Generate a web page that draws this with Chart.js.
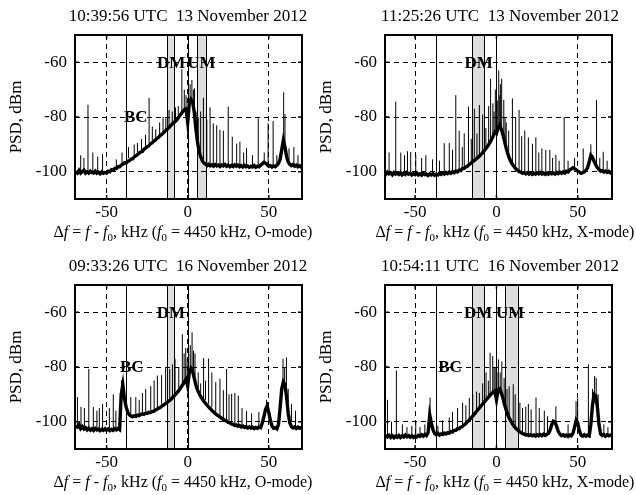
<!DOCTYPE html>
<html>
<head>
<meta charset="utf-8">
<script src="https://cdn.jsdelivr.net/npm/chart.js@4.4.0/dist/chart.umd.min.js"></script>
<style>
  body { margin: 0; background: #fff; }
  #wrap { position: relative; width: 636px; height: 495px; font-family: "Liberation Serif", "Times New Roman", serif; color: #000; }
  canvas { position: absolute; }
  .ttl, .xlab { position: absolute; font-size: 17px; line-height: 17px; white-space: pre; transform: translateX(-50%); }
  .xlab { font-size: 16px; }
  .xlab sub { font-size: 11px; line-height: 0; vertical-align: -4px; }
</style>
</head>
<body>
<div id="wrap">
  <canvas id="c1" width="310" height="247" style="left:0;top:0"></canvas>
  <canvas id="c2" width="326" height="247" style="left:310px;top:0"></canvas>
  <canvas id="c3" width="310" height="247" style="left:0;top:250px"></canvas>
  <canvas id="c4" width="326" height="247" style="left:310px;top:250px"></canvas>
</div>
<script>
// first sample of every trace (kHz), 1 kHz step
const FREQ_START = -69;
const xTickValues = [-50, 0, 50];
const yTickValues = [-100, -80, -60];

const titles = ['10:39:56 UTC  13 November 2012', '11:25:26 UTC  13 November 2012',
                '09:33:26 UTC  16 November 2012', '10:54:11 UTC  16 November 2012'];
const modes = ['O-mode', 'X-mode', 'O-mode', 'X-mode'];

// PSD floor of each spectrum, dBm, from -69 to 71 kHz
const psd1 = [
  -100, -100.5, -99.5, -100.5, -100, -99.5, -100.5, -100, -100.5, -99.8,
  -100.3, -100.5, -99.8, -100.6, -100.2, -100.8, -100.1, -100.6, -100.3, -100.5,
  -99.8, -100, -99.3, -99.5, -98.8, -98.9, -98.2, -98.2, -97.6, -97.3,
  -96.8, -96.9, -96.2, -96, -95.4, -95.3, -94.6, -94.2, -93.8, -93.2,
  -92.8, -92.6, -91.8, -91.4, -90.9, -90.6, -89.8, -89.5, -88.9, -88.5,
  -87.8, -87.5, -86.8, -86.4, -85.8, -85.2, -84.7, -84.1, -83.5, -82.9,
  -82.2, -81.8, -81.2, -80.5, -79.6, -78.8, -78, -77.2, -77, -82,
  -75, -73.5, -74.5, -78, -84, -89, -92.5, -94.5, -96, -96.8,
  -97.2, -97.8, -97.3, -97.9, -97.5, -98, -97.4, -97.9, -97.6, -98.1,
  -97.5, -97.9, -97.4, -98, -97.6, -98.2, -97.7, -98.1, -97.5, -98,
  -97.6, -98.2, -97.8, -98.3, -97.7, -98.2, -97.9, -98.4, -98, -98.3,
  -97.8, -98.4, -98, -98.2, -97.6, -97.2, -96.6, -96.9, -97.4, -98,
  -97.8, -98.3, -97.9, -98.2, -97.7, -97, -95.5, -92, -88.5, -91,
  -94.5, -96.5, -97.3, -97.8, -97.4, -98, -97.6, -98.2, -97.8, -98.3, -97.9
];
const psd2 = [
  -100.5, -101, -100.2, -100.8, -100.4, -101.1, -100.3, -100.9, -100.5, -101,
  -100.4, -101.2, -100.6, -101, -100.3, -100.9, -100.6, -101.2, -100.7, -101.1,
  -100.5, -101.2, -100.8, -101.3, -100.6, -101.1, -100.9, -101.4, -100.8, -101.2,
  -100.7, -101.3, -100.9, -101.2, -100.6, -101, -100.5, -100.9, -100.3, -100.7,
  -100.2, -100.6, -100, -100.4, -99.8, -100.1, -99.5, -99.6, -98.9, -98.9,
  -98.3, -98.1, -97.5, -97.1, -96.6, -96.1, -95.6, -95.1, -94.6, -94,
  -93.4, -92.7, -92, -91.2, -90.3, -89.3, -88.2, -87, -85.5, -86,
  -84, -83, -84.5, -86.5, -89, -91.5, -93.5, -95.2, -96.5, -97.5,
  -98.3, -99, -99.5, -100, -100.2, -100.6, -100.3, -100.8, -100.4, -100.9,
  -100.5, -101, -100.6, -100.9, -100.4, -100.8, -100.3, -100.9, -100.5, -101,
  -100.6, -100.9, -100.4, -100.8, -100.5, -100.9, -100.3, -100.7, -100.2, -100.6,
  -100.1, -100.5, -99.8, -100.1, -99.4, -99, -98.6, -98.9, -99.3, -99.8,
  -100.2, -100.6, -100.4, -100.1, -99.5, -98.5, -96.5, -94, -94.8, -96.2,
  -97.5, -98.5, -99.2, -99.8, -99.6, -100.1, -99.8, -100.3, -99.9, -100.4, -100
];
const psd3 = [
  -101.5, -102, -101.2, -102.5, -101.8, -102.7, -102.2, -103, -102.4, -103.1,
  -102.6, -103.2, -102.5, -103, -102.7, -103.3, -102.8, -103.2, -102.6, -103.1,
  -102.7, -103.3, -102.8, -103.2, -102.6, -103, -102.5, -102.9, -90, -86.5,
  -91.5, -94.5, -96.5, -97.5, -97.9, -98.2, -97.8, -98.1, -97.6, -97.8,
  -97.4, -97.1, -97.3, -96.9, -97, -96.6, -96.7, -96.3, -96.2, -95.8,
  -95.5, -95.1, -94.8, -94.3, -94, -93.5, -93.1, -92.6, -92.2, -91.6,
  -91, -90.4, -89.7, -89, -88.2, -87.3, -86.4, -85.4, -84.5, -87,
  -82, -80.5, -81.5, -84, -86.5, -88.3, -89.6, -90.8, -91.7, -92.5,
  -93.3, -94, -94.7, -95.3, -95.9, -96.5, -97, -97.5, -97.9, -98.3,
  -98.8, -99.1, -99.6, -99.8, -100.3, -100.4, -100.9, -100.9, -101.4, -101.2,
  -101.7, -101.4, -101.9, -101.6, -102.1, -101.8, -102.3, -101.9, -102.4, -102,
  -102.5, -102.1, -102.4, -102, -102.2, -100.5, -98.2, -95.5, -94.3, -96.5,
  -99.5, -101.6, -102.4, -102.2, -102.6, -101, -95, -88, -85.5, -86.5,
  -91, -97, -100.5, -101.8, -102.3, -101.9, -102.5, -102, -102.4, -102.1, -102.5
];
const psd4 = [
  -104.5, -105.3, -105.6, -105, -105.8, -105.2, -105.9, -105.3, -105.7, -105.1,
  -105.8, -105.2, -105.6, -104.9, -105.5, -105.1, -105.7, -105.2, -105.8, -105.3,
  -105.6, -105, -105.4, -104.8, -105.3, -104.7, -105.1, -104, -97.5, -100.5,
  -103, -104.3, -104.8, -104.3, -104.9, -104.5, -104.7, -104.2, -104.5, -104,
  -104.2, -103.6, -103.8, -103.2, -103.2, -102.6, -102.6, -102, -101.8, -101.2,
  -100.8, -100.1, -99.6, -98.9, -98.2, -97.5, -96.8, -96, -95.3, -94.6,
  -93.9, -93.2, -92.5, -91.8, -91.1, -90.4, -89.7, -89.2, -88.8, -92,
  -88.5, -88, -89.5, -91.5, -93.8, -95.8, -97.5, -98.9, -100, -101,
  -101.8, -102.5, -103, -103.6, -103.9, -104.4, -104.5, -104.9, -104.8, -105.1,
  -104.8, -105.2, -104.9, -105.3, -104.8, -105.2, -104.7, -105.1, -104.6, -105,
  -104.6, -104.3, -103, -101, -99.8, -100.2, -101.8, -103.6, -104.6, -105.1,
  -104.8, -105.3, -104.9, -105.4, -104.9, -105.2, -104.3, -102, -99.5, -100.5,
  -103.5, -105, -105.3, -104.8, -105.3, -104.9, -105.2, -101, -94, -90,
  -90.5, -94.5, -101, -104.5, -105.1, -104.7, -105.3, -104.8, -105.2, -104.9, -105.2
];

// narrow spectral lines: [kHz, foot dBm, peak dBm]
const spikes1 = [
  [-66, -100, -94], [-64, -100, -95], [-61.5, -100, -75.5], [-58.5, -100, -93], [-55.5, -100, -94.5],
  [-52.5, -100, -93.5], [-44, -99, -95.5], [-40.5, -97, -93], [-36.5, -95, -91], [-33, -94, -90],
  [-31, -93, -89.5], [-28.5, -92.5, -88], [-26, -91, -86.5], [-23.8, -89.5, -73], [-21.8, -88.5, -83.5],
  [-19.7, -87.8, -84.5], [-17.3, -86.8, -82], [-15.2, -85.5, -80], [-13.5, -84.5, -80.5], [-11.5, -83.6, -77.5],
  [-9.5, -82.5, -78], [-7.5, -81.5, -76.5], [-5.8, -80, -76], [-3.6, -78, -62.5], [-2.1, -77.5, -70],
  [-1, -78, -72], [0.5, -80, -72.5], [1.5, -75, -68], [2.6, -74, -66.5], [3.5, -77, -70],
  [4.2, -80, -69.5], [5.2, -86, -78], [6.5, -89, -80], [8, -94, -78], [9.7, -96, -73],
  [11.8, -97, -81], [13.8, -97.5, -76.5], [15.8, -97.5, -82.3], [17.9, -97.5, -83], [19.9, -97.5, -84.7],
  [22, -97.5, -85], [25, -97.5, -76.2], [27.5, -97.5, -87.2], [30.2, -97.5, -89.7], [32.2, -97.5, -89],
  [34.5, -98, -93], [36.3, -98, -91.4], [40, -98, -94], [43.5, -98, -80.5], [47.2, -97, -93],
  [49.6, -98, -82.3], [52.7, -98, -81.5], [55, -98, -94], [59.2, -89, -71], [60, -90, -79],
  [62.5, -96, -91.5], [65.5, -97.5, -91], [68, -98, -94]
];
const spikes2 = [
  [-66, -100.5, -93], [-61.9, -100.8, -74.4], [-58.8, -100.8, -93], [-56.5, -100.8, -94], [-54.7, -101, -92.5],
  [-52.7, -101, -92.8], [-49.6, -101, -94], [-46, -101, -95], [-43.4, -101, -94], [-39.3, -101, -95.5],
  [-35, -101, -96], [-32.1, -100.6, -89.6], [-29, -100.3, -89.5], [-27, -100, -92], [-25, -100, -72],
  [-22.9, -99.5, -85], [-21, -99, -91], [-19.8, -98.5, -86], [-17.2, -97.5, -76.2], [-15.5, -96.5, -88],
  [-13.6, -95.5, -77], [-12, -95, -86], [-10.5, -94.5, -75.6], [-8.5, -93.5, -79], [-6.5, -92, -84],
  [-4.8, -90, -76], [-3.6, -89, -66], [-2.2, -88, -75], [-1.5, -87, -78], [-0.7, -86, -70],
  [0.5, -85, -74], [1.4, -84, -63], [2, -83, -72], [2.4, -83, -68], [3.2, -84, -66],
  [4.5, -87, -73.8], [5.3, -89, -80], [6, -90, -82], [7.5, -93, -85], [9.8, -96.5, -73.2],
  [11.8, -98, -80], [13.9, -99.5, -77.4], [15.5, -100, -87], [17.4, -100.3, -85], [19.6, -100.4, -87.5],
  [22.1, -100.5, -89.8], [24.2, -100.5, -87.4], [26, -100.6, -93], [27.9, -100.6, -91.5], [30.3, -100.7, -92],
  [32.8, -100.6, -92], [34.5, -100.6, -95], [36.5, -100.6, -93.8], [38.5, -100.6, -96], [41.6, -100.3, -80],
  [44, -100, -96], [48, -98.8, -95], [53.3, -100.5, -91.5], [58, -94, -90], [61.5, -97.5, -73.8],
  [63.5, -99, -95], [65.6, -99.8, -92.7], [68, -100, -96]
];
const spikes3 = [
  [-68, -101.5, -91], [-65.8, -102, -94.6], [-63.7, -102.5, -95], [-61, -102.8, -80.7], [-58.2, -103, -94.6],
  [-56, -103, -96], [-54.5, -103, -95], [-52.5, -103, -93.5], [-48.3, -103, -95], [-45.9, -103, -90],
  [-44.3, -103, -96], [-40.8, -90, -84.8], [-35.1, -97.8, -91], [-32, -97.5, -91], [-29.9, -97.2, -92],
  [-27.9, -97, -89.5], [-25.9, -96.7, -88], [-22.8, -96, -87], [-20.7, -95.5, -84.9], [-18.7, -95, -83.1],
  [-16.1, -93.5, -83], [-13.6, -92.5, -80], [-11.1, -91.5, -80.7], [-9.4, -91, -79], [-7.8, -90, -77],
  [-5.5, -88, -80], [-3.3, -86, -68], [-2.2, -85, -75], [-1.2, -84, -73], [-0.3, -85, -77],
  [0.6, -84, -75], [1.6, -81, -72], [2.7, -80.5, -67.3], [3.6, -82, -74], [4.5, -84, -75],
  [6.5, -88, -82], [8, -89.5, -86], [9.8, -91.5, -76.7], [11, -92, -85], [12.9, -93.5, -76.9],
  [14.9, -94.7, -82], [17.3, -96.5, -85.5], [19.9, -97.9, -84.3], [22, -98.8, -88.5], [24, -99.6, -80.7],
  [25.5, -99.8, -90], [27.1, -100.4, -89.8], [29.1, -100.9, -89.5], [31.2, -101.2, -90.5], [33.5, -101.4, -95],
  [36.3, -102, -96.1], [39.4, -102, -97], [43.9, -102.1, -96.5], [48.6, -95.5, -92], [58.8, -88, -77],
  [59.8, -86, -80], [60.9, -87, -76.5], [62, -93, -88], [64, -100, -93.5], [66.5, -102, -96]
];
const spikes4 = [
  [-69, -104.5, -90], [-67, -105.3, -92], [-64.5, -105.5, -100], [-61.5, -105.5, -81.3], [-57.8, -105.5, -101],
  [-55, -105.5, -102], [-52, -105.3, -101.5], [-49.6, -105.3, -100], [-47, -105.3, -102], [-44, -105, -101],
  [-40.8, -100, -91.2], [-36, -104.5, -101.5], [-33.1, -104.3, -99.5], [-29, -104, -98.5], [-27, -103.5, -96.5],
  [-23.9, -102.5, -95], [-20.8, -101.5, -93], [-18.8, -100.5, -94], [-16.7, -99.5, -91.3], [-14.6, -98, -90],
  [-12.2, -96.5, -89], [-10.5, -95, -89.5], [-8.5, -93.5, -86], [-6.4, -92.5, -82], [-5, -91.5, -85],
  [-3.9, -91, -74.8], [-2.3, -90, -76], [-1.5, -89.5, -80], [-0.8, -89, -80], [0.3, -89, -82],
  [1.2, -88.5, -77.2], [2.3, -88, -82], [3.3, -89.5, -78], [4.7, -93, -84], [5.5, -95, -86],
  [6.5, -96, -88], [7.8, -98, -87], [10.3, -101, -86.3], [11.5, -101.5, -90], [14.4, -103.5, -93],
  [16, -104.2, -95], [18, -104.6, -94.5], [19.6, -104.8, -93.5], [21.3, -104.8, -95.5], [24.3, -104.8, -91.2],
  [26.3, -104.8, -95], [29.4, -104.7, -96], [31.4, -104.5, -98], [36.5, -100, -94.4], [44, -105, -101],
  [48.9, -101, -92.5], [49.9, -100, -91.5], [56.5, -105, -79], [59, -96, -88], [60.3, -90, -83.3],
  [61.3, -91, -84], [62.5, -95, -90], [66, -105, -101], [68.5, -105, -102]
];

// marked frequencies (kHz): BC line, DM / UM bands, text tags [text, kHz, dBm]
const bcLine = [-38.2, -37.1, -38.2, -37.1];
const dmBand = [[-12.7, -8.2], [-15, -7.5], [-12.7, -8.2], [-15, -7.5]];
const umBand = [[5.8, 11.3], null, null, [5.5, 13.2]];
const tags = [
  [['BC', -32, -80], ['DM', -10.2, -60], ['UM', 8.5, -60]],
  [['DM', -11, -60]],
  [['BC', -34.5, -80], ['DM', -10.4, -60]],
  [['BC', -28.5, -80], ['DM', -11.2, -60], ['UM', 8.4, -60]]
];

const serif = '"Liberation Serif", "Times New Roman", serif';
const tickFont = { family: serif, size: 17 };

const marks = {
  id: 'marks',
  beforeDraw(chart, args, o) {
    const { ctx, chartArea: a, scales: { x } } = chart;
    ctx.save();
    o.bands.forEach(([b0, b1]) => {
      const x0 = x.getPixelForValue(b0), x1 = x.getPixelForValue(b1);
      ctx.fillStyle = '#dedede';
      ctx.fillRect(x0, a.top, x1 - x0, a.height);
    });
    ctx.restore();
  },
  beforeDatasetsDraw(chart, args, o) {
    const { ctx, chartArea: a, scales: { x } } = chart;
    ctx.save();
    ctx.strokeStyle = '#000';
    ctx.lineWidth = 1;
    const lines = [o.bc, 0];
    o.bands.forEach(b => lines.push(b[0], b[1]));
    lines.forEach(v => {
      const px = Math.round(x.getPixelForValue(v)) + 0.5;
      ctx.beginPath();
      ctx.moveTo(px, a.top);
      ctx.lineTo(px, a.bottom);
      ctx.stroke();
    });
    ctx.restore();
  },
  afterDatasetsDraw(chart, args, o) {
    const { ctx, chartArea: a, scales: { x, y } } = chart;
    ctx.save();
    ctx.fillStyle = '#000';
    ctx.font = 'bold 17px ' + serif;
    ctx.textAlign = 'center';
    ctx.textBaseline = 'middle';
    o.tags.forEach(([t, tx, ty]) => ctx.fillText(t, x.getPixelForValue(tx), y.getPixelForValue(ty) + 1));
    // frame and inward ticks
    ctx.strokeStyle = '#000';
    ctx.lineWidth = 2;
    ctx.strokeRect(a.left, a.top, a.width, a.height);
    ctx.lineWidth = 1.5;
    ctx.beginPath();
    xTickValues.forEach(v => {
      const px = x.getPixelForValue(v);
      ctx.moveTo(px, a.bottom); ctx.lineTo(px, a.bottom - 4);
      ctx.moveTo(px, a.top); ctx.lineTo(px, a.top + 4);
    });
    yTickValues.forEach(v => {
      const py = y.getPixelForValue(v);
      ctx.moveTo(a.left, py); ctx.lineTo(a.left + 4, py);
      ctx.moveTo(a.right, py); ctx.lineTo(a.right - 4, py);
    });
    ctx.stroke();
    ctx.restore();
  }
};

function drawPanel(i, psd, spikes, xmin, xmax, padRight) {
  const floor = psd.map((v, k) => ({ x: FREQ_START + k, y: v }));
  const lineSegs = [];
  spikes.forEach(([f, lo, hi]) => {
    lineSegs.push({ x: f, y: lo }, { x: f, y: hi }, { x: f, y: null });
  });
  const bands = [dmBand[i]];
  if (umBand[i]) bands.push(umBand[i]);

  new Chart(document.getElementById('c' + (i + 1)), {
    type: 'line',
    data: {
      datasets: [
        { data: floor, borderColor: '#000', borderWidth: 3.4, pointRadius: 0, tension: 0 },
        { data: lineSegs, borderColor: '#000', borderWidth: 1, pointRadius: 0, spanGaps: false }
      ]
    },
    options: {
      responsive: false,
      animation: false,
      events: [],
      layout: { padding: { left: 0, right: padRight, top: 35, bottom: 0 } },
      plugins: {
        legend: { display: false },
        tooltip: { enabled: false },
        marks: { bands: bands, bc: bcLine[i], tags: tags[i] }
      },
      scales: {
        x: {
          type: 'linear', min: xmin, max: xmax,
          afterBuildTicks: s => { s.ticks = xTickValues.map(v => ({ value: v })); },
          afterFit: s => { s.height = 48; },
          grid: { color: '#000', lineWidth: 1, drawTicks: false },
          border: { display: false, dash: [5, 4] },
          ticks: { color: '#000', font: tickFont, padding: 3, maxRotation: 0, autoSkip: false }
        },
        y: {
          min: -110, max: -50,
          afterBuildTicks: s => { s.ticks = yTickValues.map(v => ({ value: v })); },
          afterFit: s => { s.width = 75; },
          grid: { color: '#000', lineWidth: 1, drawTicks: false },
          border: { display: false, dash: [5, 4] },
          ticks: { color: '#000', font: tickFont, padding: 8 },
          title: { display: true, text: 'PSD, dBm', color: '#000', font: tickFont, padding: { top: 6, bottom: 0 } }
        }
      }
    },
    plugins: [marks]
  });
}

drawPanel(0, psd1, spikes1, -69.5, 70.5, 8);
drawPanel(1, psd2, spikes2, -68.5, 71, 24);
drawPanel(2, psd3, spikes3, -69.5, 70.5, 8);
drawPanel(3, psd4, spikes4, -68.5, 71, 24);

// titles and axis captions
const wrap = document.getElementById('wrap');
const centres = [[188, 0], [500, 0], [188, 250], [500, 250]];
const capCentres = [183, 505];
centres.forEach(([cx, top], i) => {
  const t = document.createElement('div');
  t.className = 'ttl';
  t.style.left = cx + 'px';
  t.style.top = (top + 7) + 'px';
  t.textContent = titles[i];
  wrap.appendChild(t);
  const c = document.createElement('div');
  c.className = 'xlab';
  c.style.left = capCentres[i % 2] + 'px';
  c.style.top = (top + 223) + 'px';
  c.innerHTML = 'Δ<i>f</i> = <i>f</i> - <i>f</i><sub>0</sub>, kHz (<i>f</i><sub>0</sub> = 4450 kHz, ' + modes[i] + ')';
  wrap.appendChild(c);
});
</script>
</body>
</html>
